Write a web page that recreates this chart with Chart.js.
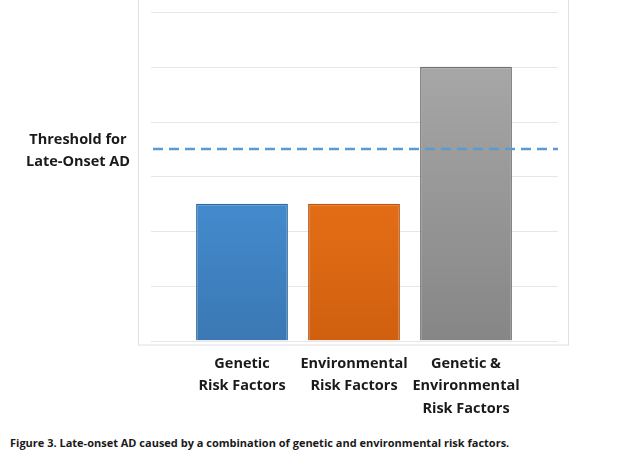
<!DOCTYPE html>
<html><head><meta charset="utf-8">
<script src="https://cdn.jsdelivr.net/npm/chart.js@4"></script>
<style>
body{margin:0;background:#fff;width:624px;height:472px;overflow:hidden;font-family:"Open Sans","Liberation Sans",sans-serif}
#wrap{position:absolute;left:0;top:0;width:624px;height:428px}
.lbl{position:absolute;font-weight:bold;color:#1a1a1a}
</style></head><body>
<div id="wrap"><canvas id="c"></canvas></div>
<div class="lbl" style="left:18px;top:128px;width:120px;text-align:center;font-size:14.5px;line-height:22px">Threshold for<br>Late-Onset AD</div>
<div class="lbl" style="left:10px;top:435px;font-size:11px">Figure 3. Late-onset AD caused by a combination of genetic and environmental risk factors.</div>
<script>
const categories=[["Genetic","Risk Factors"],["Environmental","Risk Factors"],["Genetic &","Environmental","Risk Factors"]];
const values=[2.5,2.5,5];
const threshold=3.5;
const yMax=6;
const topColors=["#4ea4ef","#ff801f","#adadad"];
const botColors=["#3b78b4","#d0600f","#868686"];
const borderColors=["#2f6aa3","#b8540f","#707070"];

const deco={id:'deco',beforeDatasetsDraw(ch){
  const c=ch.ctx,a=ch.chartArea,y=ch.scales.y;
  c.save();
  c.strokeStyle='#e0e0e0';c.lineWidth=1;
  c.strokeRect(138.5,-1,430,346);
  c.strokeStyle='#e6e6e6';
  for(let v=0;v<=yMax;v++){const p=Math.round(y.getPixelForValue(v))+0.5;c.beginPath();c.moveTo(a.left-35,p);c.lineTo(a.right+36,p);c.stroke();}
  c.restore();
},afterDatasetsDraw(ch){
  const c=ch.ctx,a=ch.chartArea,y=ch.scales.y;
  const p=y.getPixelForValue(threshold);
  c.save();c.strokeStyle='#5b9bd5';c.lineWidth=2.5;c.setLineDash([10,6]);
  c.beginPath();c.moveTo(a.left-33,p);c.lineTo(a.right+36,p);c.stroke();c.restore();
}};
new Chart(document.getElementById('c'),{
  type:'bar',
  data:{labels:categories,datasets:[{data:values,
    backgroundColor(ctx){const ch=ctx.chart,a=ch.chartArea;if(!a)return topColors[ctx.dataIndex];
      const g=ch.ctx.createLinearGradient(0,a.top,0,a.bottom);g.addColorStop(0,topColors[ctx.dataIndex]);g.addColorStop(1,botColors[ctx.dataIndex]);return g;},
    borderColor:borderColors,borderWidth:1.5,barPercentage:0.82,categoryPercentage:1}]},
  options:{responsive:true,maintainAspectRatio:false,animation:false,
    layout:{padding:{left:186,right:102,top:12,bottom:4}},
    plugins:{legend:{display:false},tooltip:{enabled:false}},
    scales:{
      y:{display:false,min:0,max:yMax},
      x:{grid:{display:false},border:{display:false},
        ticks:{color:'#1a1a1a',padding:4,maxRotation:0,font:{family:'"Open Sans","Liberation Sans",sans-serif',size:14.5,weight:'bold',lineHeight:1.55}}}
    }},
  plugins:[deco]
});
</script></body></html>
